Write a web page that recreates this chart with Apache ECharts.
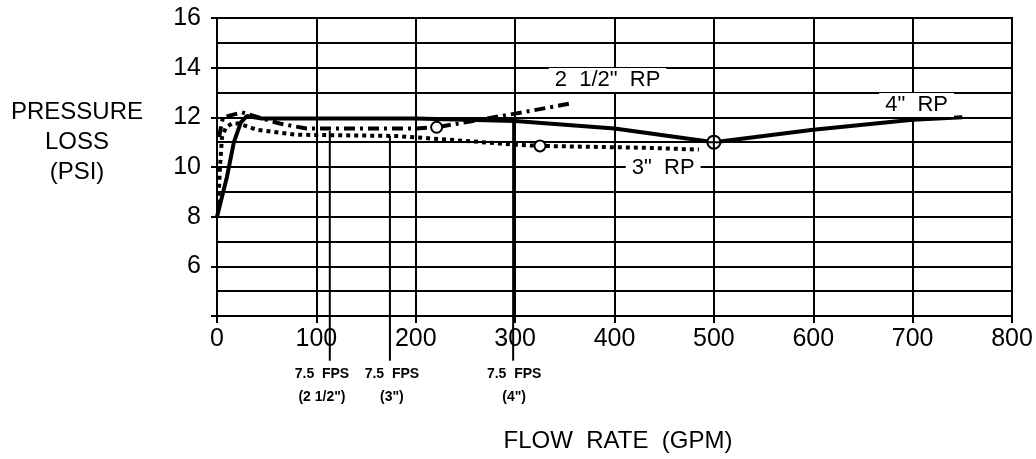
<!DOCTYPE html>
<html>
<head>
<meta charset="utf-8">
<script src="https://cdn.jsdelivr.net/npm/echarts@6/dist/echarts.min.js"></script>
<style>
html,body{margin:0;padding:0;background:#fff;}
#c{width:1036px;height:459px;}
</style>
</head>
<body>
<div id="c"></div>
<script>
// ---- data (GPM, PSI) ----
var rp4 = [[0,8],[10,9.6],[17,11.0],[24,11.8],[30,12.05],[45,11.95],[100,11.95],[200,11.95],[300,11.85],[400,11.55],[500,11.0],[600,11.5],[700,11.9],[750,12.0]];
var rp25 = [[2,11.2],[6,12.0],[25,12.2],[63,11.75],[90,11.55],[200,11.55],[221,11.6],[300,12.15],[355,12.55]];
var rp3 = [[1,8.2],[3,10.0],[5,11.2],[9,11.6],[15,11.75],[22,11.75],[40,11.5],[80,11.3],[180,11.25],[250,11.05],[300,10.9],[325,10.85],[436,10.77],[485,10.7]];
var markers = [[221,11.6],[325,10.85]];
var markerCross = [[500,11.0]];
var fpsX = [113.5,174,298];
var fpsTop = [11.45,11.25,11.85];
var fpsBottom = 2.2;
var fpsLabels = ['7.5  FPS\n(2 1/2")','7.5  FPS\n(3")','7.5  FPS\n(4")'];
var fpsLabelX = [105.6,176,299];
var fpsLabelY = 1.18;
var curveLabels = ['2  1/2"  RP','4"  RP','3"  RP'];
var curveLabelPos = [[393,13.5],[704,12.5],[449,9.96]];
var xTicks = [0,100,200,300,400,500,600,700,800];
var yTickLabels = [6,8,10,12,14,16];

var FONT = 'Liberation Sans';
var chart = echarts.init(document.getElementById('c'));

var series = [
  {type:'line', data:rp4, symbol:'none', lineStyle:{color:'#000', width:4}, z:5},
  {type:'line', data:rp25, symbol:'none', lineStyle:{color:'#000', width:4, type:[11,5,3,5], cap:'butt'}, z:5},
  {type:'line', data:rp3, symbol:'none', lineStyle:{color:'#000', width:4, type:[4,4], cap:'butt'}, z:5},
  {type:'scatter', data:markers, symbol:'circle', symbolSize:11,
   itemStyle:{color:'#fff', borderColor:'#000', borderWidth:2, opacity:1}, z:6},
  {type:'scatter', data:markerCross, symbol:'path://M0,-10 A10,10 0 1,1 0,10 A10,10 0 1,1 0,-10 Z M-10,0 L10,0 M0,-10 L0,10', symbolSize:13,
   itemStyle:{color:'#fff', borderColor:'#000', borderWidth:2, opacity:1}, z:6},
  {type:'scatter', data:curveLabels.map(function(t,i){return {value:curveLabelPos[i], label:{formatter:t}};}),
   symbolSize:0, clip:false, z:7, itemStyle:{opacity:1},
   label:{show:true, position:'inside', color:'#000', opacity:1, fontFamily:FONT, fontSize:22, backgroundColor:'#fff', padding:[1,6,1,6]}},
  {type:'scatter', data:fpsLabels.map(function(t,i){return {value:[fpsLabelX[i], fpsLabelY], label:{formatter:t}};}),
   symbolSize:0, clip:false, z:7, itemStyle:{opacity:1},
   label:{show:true, position:'inside', color:'#000', opacity:1, fontFamily:FONT, fontSize:14, fontWeight:'bold', lineHeight:23, align:'center'}}
];
fpsX.forEach(function(x,i){
  series.push({type:'line', data:[[x,fpsTop[i]],[x,fpsBottom]], symbol:'none', clip:false,
    lineStyle:{color:'#000', width:2}, z:4});
});

chart.setOption({
  animation:false,
  backgroundColor:'#fff',
  grid:{left:217, right:24, top:18, bottom:143, show:true, borderColor:'#000', borderWidth:2},
  xAxis:{type:'value', min:0, max:800, interval:100,
    axisLine:{lineStyle:{color:'#000', width:2}},
    axisTick:{show:true, inside:false, length:7, lineStyle:{color:'#000', width:2}},
    axisLabel:{color:'#000', fontFamily:FONT, fontSize:25, margin:11,
      formatter:function(v){return xTicks.indexOf(v)>=0 ? String(v) : '';}},
    splitLine:{show:true, lineStyle:{color:'#000', width:2}}},
  yAxis:{type:'value', min:4, max:16, interval:2,
    axisLine:{show:true, lineStyle:{color:'#000', width:2}},
    axisTick:{show:true, inside:false, length:6, lineStyle:{color:'#000', width:2}},
    axisLabel:{color:'#000', fontFamily:FONT, fontSize:25, margin:16,
      formatter:function(v){return yTickLabels.indexOf(v)>=0 ? String(v) : '';}},
    splitLine:{show:true, lineStyle:{color:'#000', width:2}},
    minorTick:{show:false, splitNumber:2},
    minorSplitLine:{show:true, lineStyle:{color:'#000', width:2}}},
  graphic:[
    {type:'text', x:77, y:97, style:{text:'PRESSURE\nLOSS\n(PSI)', align:'center', fontFamily:FONT, fontSize:24, lineHeight:30, fill:'#000'}},
    {type:'text', x:618, y:429, style:{text:'FLOW  RATE  (GPM)', align:'center', fontFamily:FONT, fontSize:24, fill:'#000'}}
  ],
  series:series
});
</script>
</body>
</html>
